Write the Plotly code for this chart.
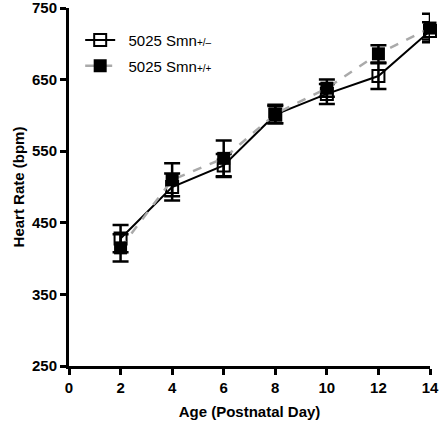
import plotly.graph_objects as go

days = [2, 4, 6, 8, 10, 12, 14]
het_mean = [428, 500, 530, 601, 630, 655, 718]
het_err = [19, 19, 16, 12, 14, 18, 12]
wt_mean = [415, 510, 540, 602, 638, 686, 722]
wt_err = [19, 23, 25, 13, 12, 12, 20]

x_ticks = [0, 2, 4, 6, 8, 10, 12, 14]
y_ticks = [250, 350, 450, 550, 650, 750]

FONT = "Liberation Sans, Arial, sans-serif"
NBSP = "\u00a0\u00a0"

fig = go.Figure()
fig.add_trace(go.Scatter(
    x=days, y=het_mean,
    error_y=dict(type="data", array=het_err, visible=True, color="black", thickness=2.5, width=8),
    mode="lines+markers",
    name=NBSP + "5025 Smn<span style='font-size:10px'>+/–</span>",
    line=dict(color="black", width=2),
    marker=dict(symbol="square-open", size=12, color="black", line=dict(width=2, color="black")),
    cliponaxis=False, legend="legend",
))
fig.add_trace(go.Scatter(
    x=days, y=wt_mean,
    error_y=dict(type="data", array=wt_err, visible=True, color="black", thickness=2.5, width=8),
    mode="lines+markers",
    name=NBSP + "5025 Smn<span style='font-size:10px'>+/+</span>",
    line=dict(color="#aaaaaa", width=2.5, dash="dash"),
    marker=dict(symbol="square", size=13, color="black"),
    cliponaxis=False, legend="legend2",
))

leg_common = dict(x=0.031, xanchor="left", yanchor="middle",
                  font=dict(size=15, family=FONT), bgcolor="rgba(0,0,0,0)",
                  itemwidth=30)

fig.update_layout(
    width=439, height=421,
    margin=dict(l=69, r=9, t=8, b=55, autoexpand=False),
    plot_bgcolor="white", paper_bgcolor="white",
    font=dict(family=FONT, color="black"),
    showlegend=True,
    legend=dict(y=0.910, **leg_common),
    legend2=dict(y=0.838, **leg_common),
    xaxis=dict(range=[0, 14], tickvals=x_ticks, showline=True, linewidth=3, linecolor="black",
               ticks="outside", ticklen=6, tickwidth=3, tickcolor="black", showgrid=False, zeroline=False,
               automargin=False, ticklabeloverflow="allow",
               tickfont=dict(size=15, family=FONT, weight="bold"),
               title=dict(text="Age (Postnatal Day)", font=dict(size=15, family=FONT, weight="bold"), standoff=12)),
    yaxis=dict(range=[250, 750], tickvals=y_ticks, showline=True, linewidth=3, linecolor="black",
               ticks="outside", ticklen=6, tickwidth=3, tickcolor="black", showgrid=False, zeroline=False,
               automargin=False, ticklabeloverflow="allow",
               tickfont=dict(size=15, family=FONT, weight="bold"),
               title=dict(text="Heart Rate (bpm)", font=dict(size=15, family=FONT, weight="bold"), standoff=4)),
)

fig.write_html("out.html",
               config={"displayModeBar": False},
               post_script="document.body.style.margin='0';document.body.style.overflow='hidden';")
